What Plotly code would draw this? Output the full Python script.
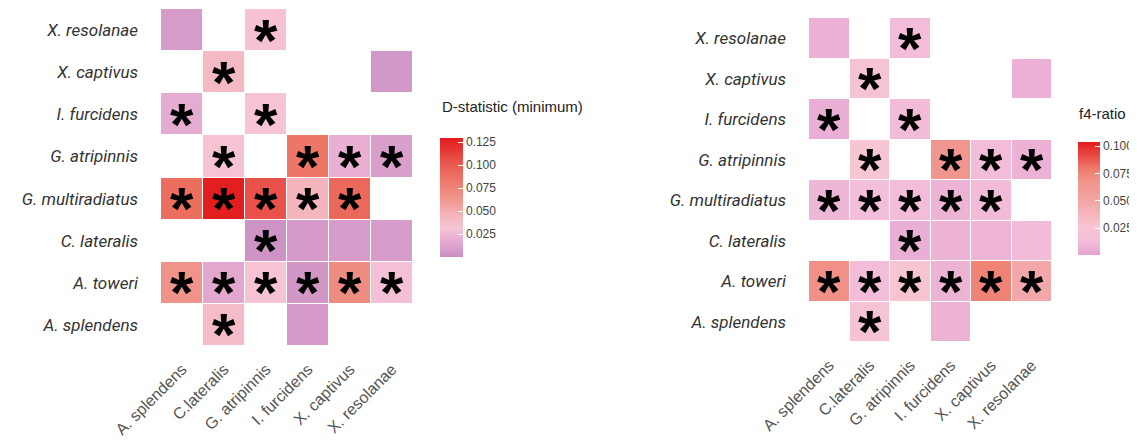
import plotly.graph_objects as go

# categories
cols = ["A. splendens", "C.lateralis", "G. atripinnis", "I. furcidens", "X. captivus", "X. resolanae"]
rows = ["A. splendens", "A. toweri", "C. lateralis", "G. multiradiatus",
        "G. atripinnis", "I. furcidens", "X. captivus", "X. resolanae"]  # bottom -> top

N = None
# D-statistic (minimum), rows bottom -> top
d_vals = [
    [N,     0.040, N,     0.007, N,     N],      # A. splendens
    [0.065, 0.015, 0.033, 0.005, 0.070, 0.030],  # A. toweri
    [N,     N,     0.003, 0.007, 0.008, 0.009],  # C. lateralis
    [0.090, 0.128, 0.105, 0.045, 0.093, N],      # G. multiradiatus
    [N,     0.033, N,     0.085, 0.020, 0.010],  # G. atripinnis
    [0.018, N,     0.032, N,     N,     N],      # I. furcidens
    [N,     0.042, N,     N,     N,     0.006],  # X. captivus
    [0.008, N,     0.035, N,     N,     N],      # X. resolanae
]
d_sig = [
    [0, 1, 0, 0, 0, 0],
    [1, 1, 1, 1, 1, 1],
    [0, 0, 1, 0, 0, 0],
    [1, 1, 1, 1, 1, 0],
    [0, 1, 0, 1, 1, 1],
    [1, 0, 1, 0, 0, 0],
    [0, 1, 0, 0, 0, 0],
    [0, 0, 1, 0, 0, 0],
]
# f4-ratio, rows bottom -> top
f_vals = [
    [N,     0.022, N,     0.008, N,     N],      # A. splendens
    [0.070, 0.013, 0.027, 0.008, 0.076, 0.048],  # A. toweri
    [N,     N,     0.006, 0.008, 0.009, 0.012],  # C. lateralis
    [0.010, 0.014, 0.013, 0.008, 0.012, N],      # G. multiradiatus
    [N,     0.026, N,     0.066, 0.013, 0.007],  # G. atripinnis
    [0.006, N,     0.012, N,     N,     N],      # I. furcidens
    [N,     0.022, N,     N,     N,     0.007],  # X. captivus
    [0.007, N,     0.013, N,     N,     N],      # X. resolanae
]
f_sig = [
    [0, 1, 0, 0, 0, 0],
    [1, 1, 1, 1, 1, 1],
    [0, 0, 1, 0, 0, 0],
    [1, 1, 1, 1, 1, 0],
    [0, 1, 0, 1, 1, 1],
    [1, 0, 1, 0, 0, 0],
    [0, 1, 0, 0, 0, 0],
    [0, 0, 1, 0, 0, 0],
]
d_ticks = [0.025, 0.050, 0.075, 0.100, 0.125]
f_ticks = [0.025, 0.050, 0.075, 0.100]
d_range = [0.0003, 0.130]
f_range = [0.0007, 0.104]

d_scale = [[0.0, "#c98ec2"], [0.154, "#e9b0d4"], [0.246, "#f6c4d5"], [0.346, "#f4b5bc"],
           [0.5, "#f0938a"], [0.692, "#ec6e5f"], [0.808, "#e8524a"], [1.0, "#e31a1c"]]
f_scale = [[0.0, "#e4a4d0"], [0.12, "#f3bdd9"], [0.25, "#f7c6d2"], [0.48, "#f2a5a3"],
           [0.66, "#f0938a"], [0.75, "#ee7e70"], [1.0, "#e31a1c"]]

W, H = 1137, 446
OX, OY = 8, 8  # page body margin offset
def px_x(a, b): return [(a - OX) / W, (b - OX) / W]
def px_y(top, bot): return [1 - (bot - OY) / H, 1 - (top - OY) / H]

fig = go.Figure()

def cbar(xpx, top, bot, thick, ticks):
    return dict(x=(xpx - OX) / W, xanchor="left", xpad=0, ypad=0,
                y=1 - ((top + bot) / 2 - OY) / H, yanchor="middle",
                len=bot - top, lenmode="pixels", thickness=thick,
                outlinewidth=0, ticks="inside", ticklen=5, tickcolor="white",
                tickvals=ticks, ticktext=[f"{t:.3f}" for t in ticks],
                tickfont=dict(family="Liberation Sans, Arial", size=12, color="#444444"))

fig.add_trace(go.Heatmap(z=d_vals, x=cols, y=rows, colorscale=d_scale,
                         zmin=d_range[0], zmax=d_range[1], xgap=1, ygap=1,
                         hoverongaps=False,
                         colorbar=cbar(440, 137.7, 256.7, 23, d_ticks),
                         xaxis="x", yaxis="y"))
fig.add_trace(go.Heatmap(z=f_vals, x=cols, y=rows, colorscale=f_scale,
                         zmin=f_range[0], zmax=f_range[1], xgap=1, ygap=1,
                         hoverongaps=False,
                         colorbar=cbar(1078, 141.7, 255, 22, f_ticks),
                         xaxis="x2", yaxis="y2"))

ann = []
for sig, xa, ya in [(d_sig, "x", "y"), (f_sig, "x2", "y2")]:
    for i, r in enumerate(rows):
        for j, c in enumerate(cols):
            if sig[i][j]:
                ann.append(dict(x=c, y=r, xref=xa, yref=ya, text="<b>*</b>", showarrow=False,
                                font=dict(family="Liberation Sans, Arial", size=60, color="black"),
                                yshift=-10))

ann.append(dict(x=(440 - OX) / W, y=1 - (107 - OY) / H, xref="paper", yref="paper", xanchor="left",
                yanchor="middle", text="D-statistic (minimum)", showarrow=False,
                font=dict(family="Liberation Sans, Arial", size=15, color="#222")))
ann.append(dict(x=(1077 - OX) / W, y=1 - (113 - OY) / H, xref="paper", yref="paper", xanchor="left",
                yanchor="middle", text="f4-ratio", showarrow=False,
                font=dict(family="Liberation Sans, Arial", size=15, color="#222")))

xax = dict(type="category", categoryorder="array", categoryarray=cols, tickangle=-45,
           range=[-0.5, len(cols) - 0.5], autorange=False,
           showgrid=False, zeroline=False, showline=False, ticks="",
           tickfont=dict(family="Liberation Sans, Arial", size=16, color="#555"),
           ticklabelstandoff=10, automargin=False)
yax = dict(type="category", categoryorder="array", categoryarray=rows,
           range=[-0.5, len(rows) - 0.5], autorange=False,
           showgrid=False, zeroline=False, showline=False, ticks="",
           tickfont=dict(family="Roboto", size=17, color="#333", style="italic"),
           ticklabelstandoff=22, automargin=False)

fig.update_layout(
    width=W, height=H, margin=dict(l=0, r=0, t=0, b=0, autoexpand=False),
    paper_bgcolor="white", plot_bgcolor="white",
    xaxis=dict(xax, domain=px_x(161, 413), anchor="y"),
    yaxis=dict(yax, domain=px_y(9, 346), anchor="x"),
    xaxis2=dict(xax, domain=px_x(809, 1052), anchor="y2"),
    yaxis2=dict(yax, domain=px_y(18, 342), anchor="x2"),
    annotations=ann, showlegend=False,
)
fig.write_html("out.html")
